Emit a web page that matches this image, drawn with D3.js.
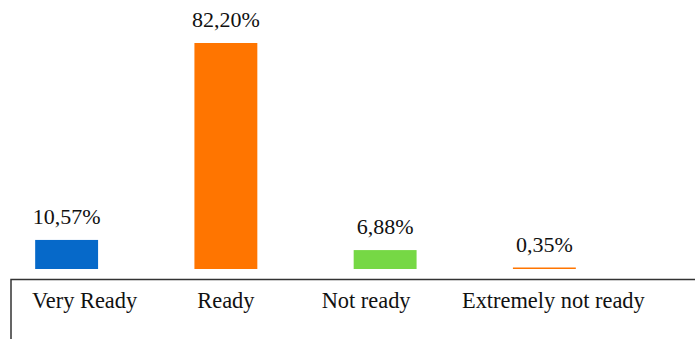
<!DOCTYPE html>
<html>
<head>
<meta charset="utf-8">
<script src="https://cdn.jsdelivr.net/npm/d3@7"></script>
<style>
  html, body { margin: 0; padding: 0; background: #fff; }
  svg { display: block; }
  text { font-family: "Liberation Serif", "Times New Roman", serif; fill: #111; }
</style>
</head>
<body>
<svg id="chart" width="695" height="339"></svg>
<script>
const categories = ["Very Ready", "Ready", "Not ready", "Extremely not ready"];
const values = [10.57, 82.20, 6.88, 0.35];
const valueLabels = ["10,57%", "82,20%", "6,88%", "0,35%"];
const colors = ["#0669c9", "#ff7500", "#76d845", "#ff7500"];

const W = 695, H = 339;
const svg = d3.select("#chart");

const x = d3.scaleBand()
  .domain(categories)
  .range([-13, 624])
  .paddingInner(0.605)
  .paddingOuter(0.3025);

const baseY = 269;
const y = d3.scaleLinear().domain([0, 82.20]).range([baseY, 43]);

const data = categories.map((c, i) => ({ c, v: values[i], label: valueLabels[i], color: colors[i] }));

svg.selectAll("rect.bar")
  .data(data)
  .join("rect")
  .attr("class", "bar")
  .attr("x", d => x(d.c))
  .attr("y", d => Math.min(y(d.v), baseY - 1.5))
  .attr("width", x.bandwidth())
  .attr("height", d => Math.max(baseY - y(d.v), 1.5))
  .attr("fill", d => d.color);

svg.selectAll("text.val")
  .data(data)
  .join("text")
  .attr("class", "val")
  .attr("x", d => x(d.c) + x.bandwidth() / 2)
  .attr("y", d => y(d.v) - 16)
  .attr("text-anchor", "middle")
  .attr("font-size", 22)
  .text(d => d.label);

// axis box
const axisY = 279.5;
svg.append("path")
  .attr("d", `M11,${H} V${axisY} H${W}`)
  .attr("fill", "none")
  .attr("stroke", "#333")
  .attr("stroke-width", 1.5);

// category labels (table cell placement, offset from bar centers)
const labelShift = [18, 0, -19, 9];
svg.selectAll("text.cat")
  .data(data)
  .join("text")
  .attr("class", "cat")
  .attr("x", (d, i) => x(d.c) + x.bandwidth() / 2 + labelShift[i])
  .attr("y", 308)
  .attr("text-anchor", "middle")
  .attr("font-size", 22.4)
  .text(d => d.c);
</script>
</body>
</html>
